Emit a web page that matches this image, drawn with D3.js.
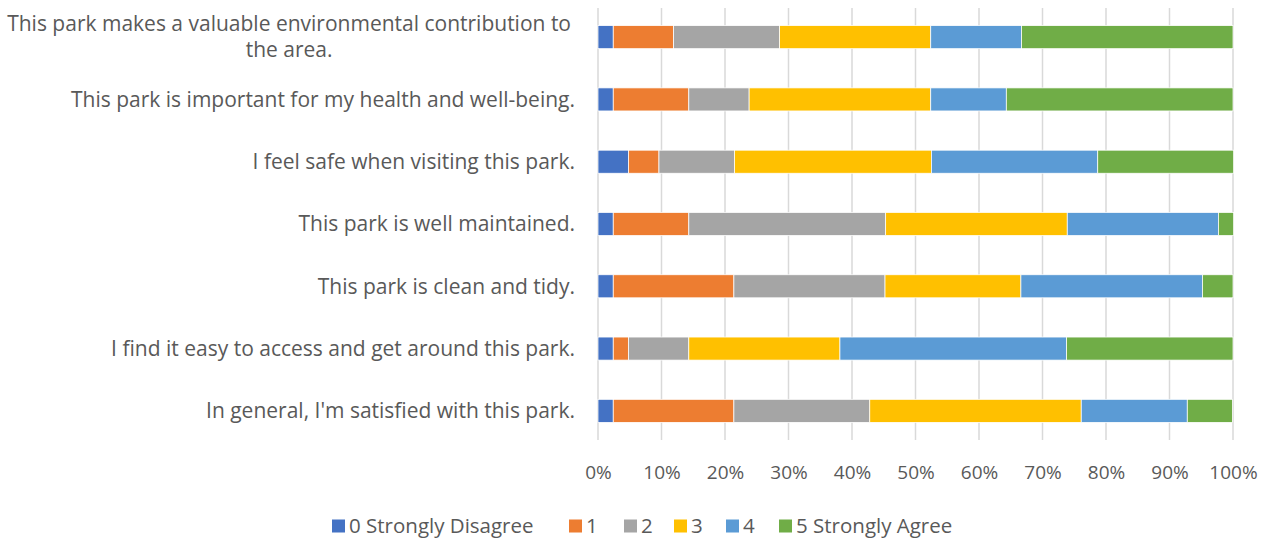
<!DOCTYPE html>
<html>
<head>
<meta charset="utf-8">
<script src="https://cdn.jsdelivr.net/npm/d3@7"></script>
<style>
  body { margin: 0; background: #fff; }
  text { font-family: "Open Sans", "Noto Sans", sans-serif; fill: #595959; }
</style>
</head>
<body>
<div id="chart"></div>
<script>
// chart size and plot box
const width = 1269;
const height = 543;
const margin = {left: 598, right: 36, top: 6, bottom: 101};

// categories, top to bottom
const categories = [
  ["This park makes a valuable environmental contribution to", "the area."],
  ["This park is important for my health and well-being."],
  ["I feel safe when visiting this park."],
  ["This park is well maintained."],
  ["This park is clean and tidy."],
  ["I find it easy to access and get around this park."],
  ["In general, I'm satisfied with this park."]
];

// series names and colours
const seriesNames = ["0 Strongly Disagree", "1", "2", "3", "4", "5 Strongly Agree"];
const seriesColors = ["#4472C4", "#ED7D31", "#A5A5A5", "#FFC000", "#5B9BD5", "#70AD47"];

// share of answers (%) per series, one value per category (same order as above)
const s0 = [2.4, 2.4, 4.8, 2.4, 2.4, 2.4, 2.4];
const s1 = [9.5, 11.9, 4.8, 11.9, 19.0, 2.4, 19.0];
const s2 = [16.7, 9.5, 11.9, 31.0, 23.8, 9.5, 21.4];
const s3 = [23.8, 28.6, 31.0, 28.6, 21.4, 23.8, 33.3];
const s4 = [14.3, 11.9, 26.2, 23.8, 28.6, 35.7, 16.7];
const s5 = [33.3, 35.7, 21.4, 2.4, 4.8, 26.2, 7.1];

const tickValues = [0, 10, 20, 30, 40, 50, 60, 70, 80, 90, 100];
const tickLabels = ["0%", "10%", "20%", "30%", "40%", "50%", "60%", "70%", "80%", "90%", "100%"];

// build rows for d3.stack
const rows = categories.map((c, i) => ({
  idx: i,
  "0 Strongly Disagree": s0[i], "1": s1[i], "2": s2[i], "3": s3[i], "4": s4[i], "5 Strongly Agree": s5[i]
}));

const stacked = d3.stack().keys(seriesNames)(rows);

const svg = d3.select("#chart")
  .append("svg")
  .attr("width", width)
  .attr("height", height);

const x = d3.scaleLinear()
  .domain([0, 100])
  .range([margin.left, width - margin.right]);

const y = d3.scaleBand()
  .domain(d3.range(categories.length))
  .range([margin.top, height - margin.bottom])
  .paddingInner(0.63)
  .paddingOuter(0.315);

const color = d3.scaleOrdinal().domain(seriesNames).range(seriesColors);

// vertical gridlines
svg.append("g")
  .selectAll("line")
  .data(tickValues)
  .join("line")
    .attr("x1", d => x(d))
    .attr("x2", d => x(d))
    .attr("y1", margin.top + 2)
    .attr("y2", height - margin.bottom - 2)
    .attr("stroke", "#d9d9d9")
    .attr("stroke-width", 1.5);

// x axis labels
const xAxis = svg.append("g")
  .attr("transform", `translate(0,${height - margin.bottom})`)
  .call(d3.axisBottom(x).tickValues(tickValues).tickFormat((d, i) => tickLabels[i]).tickSize(0).tickPadding(24));
xAxis.select(".domain").remove();
xAxis.selectAll("text")
  .attr("font-size", "19px")
  .attr("fill", "#595959")
  .style("font-family", "\"Open Sans\", sans-serif");

// bars
svg.append("g")
  .selectAll("g")
  .data(stacked)
  .join("g")
    .attr("fill", d => color(d.key))
  .selectAll("rect")
  .data(d => d)
  .join("rect")
    .attr("x", d => x(d[0]))
    .attr("y", d => y(d.data.idx))
    .attr("width", d => x(d[1]) - x(d[0]))
    .attr("height", y.bandwidth())
    .attr("stroke", "#fff")
    .attr("stroke-width", 0.75);

// category labels (multi-line ones are centred in their block, like Excel)
const labelRight = 575;
const labelSize = 21;
const labels = svg.append("g")
  .selectAll("text")
  .data(categories)
  .join("text")
    .attr("font-size", labelSize + "px")
    .attr("text-anchor", "end")
    .attr("x", labelRight)
    .attr("y", (d, i) => y(i) + y.bandwidth() / 2);

labels.each(function(lines, i) {
  const t = d3.select(this);
  const lh = 26;
  const top = y(i) + y.bandwidth() / 2 - (lines.length - 1) * lh / 2;
  lines.forEach((ln, k) => {
    t.append("tspan")
      .attr("x", labelRight)
      .attr("y", top + k * lh)
      .attr("dy", "0.35em")
      .text(ln);
  });
  if (lines.length > 1) {
    const spans = t.selectAll("tspan").nodes();
    const w = d3.max(spans, n => n.getComputedTextLength());
    t.attr("text-anchor", "middle");
    t.selectAll("tspan").attr("x", labelRight - 4 - w / 2);
  }
});

// legend
const legend = svg.append("g").attr("transform", `translate(0,${height - 17})`);
const legendX = [332, 569, 624, 674, 726, 779];
const legendItems = legend.selectAll("g")
  .data(seriesNames)
  .join("g")
    .attr("transform", (d, i) => `translate(${legendX[i]},0)`);
legendItems.append("rect")
  .attr("x", 0)
  .attr("y", -6.5)
  .attr("width", 13)
  .attr("height", 13)
  .attr("fill", d => color(d));
legendItems.append("text")
  .attr("x", 17)
  .attr("y", 0)
  .attr("dy", "0.35em")
  .attr("font-size", "20.5px")
  .text(d => d);
</script>
</body>
</html>
